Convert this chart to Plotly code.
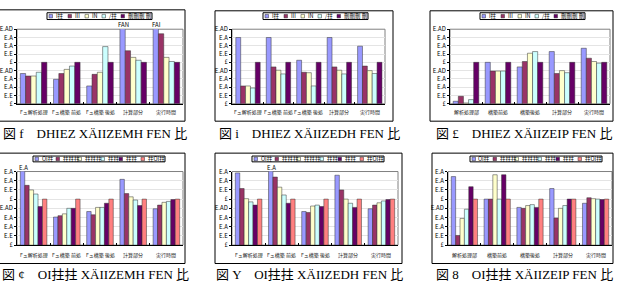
import plotly.graph_objects as go

W, H = 627, 283

# ---------------- data ----------------
cats_a = ["Fュ解析処理", "Fュ構築 前処", "Fュ構築 後処", "計算部分", "実行時間"]
cats_b = ["解析処理部", "構築前処", "構築後処", "計算部分", "実行時間"]

names_row1 = ["I拄", "III", "IN", "/拄", "刪刪刪 刪"]
names_row2 = ["OI拄", "拄拄拄", "拄拄拄", "拄拄", "拄拄", "拄OI拄"]

colors_row1 = ["#9999FF", "#993366", "#FFFFCC", "#CCFFFF", "#660066"]
colors_row2 = ["#9999FF", "#993366", "#FFFFCC", "#CCFFFF", "#660066", "#FF8080"]

p1 = [[0.73, 0.59, 0.43, 2.10, 2.00],
      [0.67, 0.73, 0.71, 1.28, 1.69],
      [0.67, 0.83, 0.76, 1.12, 1.12],
      [0.76, 0.91, 1.38, 1.05, 1.02],
      [1.00, 1.00, 1.00, 1.00, 1.00]]
p2 = [[1.60, 1.60, 1.05, 1.60, 1.39],
      [0.43, 0.89, 0.76, 0.89, 0.91],
      [0.43, 0.81, 0.75, 0.81, 0.80],
      [0.38, 0.72, 0.43, 0.72, 0.73],
      [1.00, 1.00, 1.00, 1.00, 1.00]]
p3 = [[0.06, 1.00, 0.89, 1.26, 1.34],
      [0.18, 0.79, 1.02, 0.73, 1.10],
      [0.02, 0.79, 1.22, 0.80, 1.02],
      [0.10, 0.79, 1.26, 0.75, 0.98],
      [1.00, 1.00, 1.00, 1.00, 1.00]]
p4 = [[1.75, 0.61, 0.73, 1.43, 0.79],
      [1.30, 0.64, 0.66, 1.12, 0.87],
      [1.20, 0.68, 0.82, 1.05, 0.93],
      [1.11, 0.80, 0.82, 0.98, 0.95],
      [0.84, 0.80, 0.91, 0.86, 0.99],
      [1.00, 1.00, 1.00, 1.00, 1.00]]
p5 = [[1.57, 1.75, 0.73, 1.52, 0.79],
      [1.23, 1.48, 0.71, 1.20, 0.87],
      [1.01, 1.26, 0.85, 1.00, 0.92],
      [0.94, 1.09, 0.87, 0.91, 0.96],
      [0.87, 0.91, 0.84, 0.82, 0.99],
      [1.00, 1.00, 1.00, 1.00, 1.00]]
p6 = [[1.49, 1.00, 0.82, 1.23, 0.91],
      [0.21, 1.00, 0.80, 0.59, 1.03],
      [0.58, 1.53, 0.86, 0.80, 1.01],
      [0.78, 1.00, 0.88, 0.86, 1.00],
      [1.27, 1.53, 0.82, 1.00, 0.99],
      [1.00, 1.00, 1.00, 1.00, 1.00]]

ticks_18 = [0, 0.2, 0.4, 0.6, 0.8, 1.0, 1.2, 1.4, 1.6, 1.8]
ticktext_18 = ["£", "E.E", "E.A", "E.A", "E.AD", "£", "E.E", "E.A", "E.A", "E.AD"]
ticks_16 = [0, 0.2, 0.4, 0.6, 0.8, 1.0, 1.2, 1.4, 1.6]
ticktext_16 = ["£", "E.E", "E.A", "E.A", "E.AD", "£", "E.E", "E.A", "E.A"]

captions = ["図 f　DHIEZ XÄIIZEMH FEN 比", "図 i　DHIEZ XÄIIZEDH FEN 比",
            "図 £　DHIEZ XÄIIZEIP FEN 比", "図 ¢　OI拄拄 XÄIIZEMH FEN 比",
            "図 Y　OI拄拄 XÄIIZEDH FEN 比", "図 8　OI拄拄 XÄIIZEIP FEN 比"]

# overflow value labels (panel, category index, text)
over_labels = [(1, 3, "FAN"), (1, 4, "FAI"), (4, 0, "E.A"), (5, 1, "E.A")]

# ---------------- layout geometry (pixels) ----------------
panels = [
    dict(data=p1, cats=cats_a, names=names_row1, colors=colors_row1, plot=(17, 183, 25, 102),
         frame=(-2, 185, 5, 120), ymax=1.8, legend=(47, 152, 8, 15), loff=[1, 20, 37, 54, 73], caption_x=95, caption_y=133, cat_y=110),
    dict(data=p2, cats=cats_a, names=names_row1, colors=colors_row1, plot=(232, 385, 25, 102),
         frame=(215, 393, 6, 120), ymax=1.8, legend=(263, 368, 8, 15), loff=[1, 20, 37, 54, 73], caption_x=309, caption_y=133, cat_y=110),
    dict(data=p3, cats=cats_b, names=names_row1, colors=colors_row1, plot=(450, 610, 25, 102),
         frame=(430, 613, 6, 120), ymax=1.8, legend=(480, 585, 8, 15), loff=[1, 20, 37, 54, 73], caption_x=524, caption_y=133, cat_y=110),
    dict(data=p4, cats=cats_a, names=names_row2, colors=colors_row2, plot=(17, 183, 172, 248),
         frame=(-2, 185, 153, 267), ymax=1.6, legend=(33, 165, 156, 162), loff=[1, 22, 44, 67, 85, 107], caption_x=95, caption_y=278, cat_y=258),
    dict(data=p5, cats=cats_a, names=names_row2, colors=colors_row2, plot=(232, 398, 172, 248),
         frame=(215, 402, 153, 267), ymax=1.6, legend=(252, 384, 156, 162), loff=[1, 22, 44, 67, 85, 107], caption_x=309, caption_y=278, cat_y=258),
    dict(data=p6, cats=cats_b, names=names_row2, colors=colors_row2, plot=(448, 612, 172, 248),
         frame=(432, 613, 153, 267), ymax=1.6, legend=(470, 602, 156, 162), loff=[1, 22, 44, 67, 85, 107], caption_x=524, caption_y=278, cat_y=258),
]

def px(x):
    return x / W

def py(y):
    return 1 - y / H

FONT = "Noto Sans CJK JP"
CAP_FONT = "Liberation Serif, Noto Sans CJK JP"
fig = go.Figure()
shapes = []
annotations = []
layout = dict(width=W, height=H, margin=dict(l=0, r=0, t=0, b=0),
              paper_bgcolor="white", plot_bgcolor="white", showlegend=False,
              barmode="group", bargap=0.2, bargroupgap=0.0,
              font=dict(family=FONT, size=6, color="black"))

for k, p in enumerate(panels, start=1):
    xa = "x" if k == 1 else f"x{k}"
    ya = "y" if k == 1 else f"y{k}"
    xl = "xaxis" if k == 1 else f"xaxis{k}"
    yl = "yaxis" if k == 1 else f"yaxis{k}"
    for s, vals in enumerate(p["data"]):
        fig.add_trace(go.Bar(x=p["cats"], y=vals, name=p["names"][s], xaxis=xa, yaxis=ya,
                             marker=dict(color=p["colors"][s], line=dict(color="#333333", width=0.5))))
    x0, x1, y0, y1 = p["plot"]
    tv = ticks_18 if p["ymax"] > 1.7 else ticks_16
    tt = ticktext_18 if p["ymax"] > 1.7 else ticktext_16
    layout[xl] = dict(domain=[px(x0), px(x1)], anchor=ya, showline=True, linecolor="black", linewidth=1,
                      ticks="inside", ticklen=2, tickson="boundaries", tickcolor="black",
                      showticklabels=False, fixedrange=True)
    layout[yl] = dict(domain=[py(y1), py(y0)], anchor=xa, range=[0, p["ymax"]], showline=True,
                      linecolor="black", linewidth=1, ticks="outside", ticklen=2, tickcolor="black",
                      tickvals=tv, ticktext=tt, tickfont=dict(size=6, family=FONT),
                      showgrid=True, gridcolor="#e4e4e4", gridwidth=0.5, zeroline=False, fixedrange=True)
    # plot area border (gray)
    shapes.append(dict(type="rect", xref="paper", yref="paper", x0=px(x0), x1=px(x1), y0=py(y1), y1=py(y0),
                       line=dict(color="#808080", width=1), layer="below"))
    # outer chart frame
    fx0, fx1, fy0, fy1 = p["frame"]
    shapes.append(dict(type="rect", xref="paper", yref="paper", x0=px(fx0), x1=px(fx1), y0=py(fy1), y1=py(fy0),
                       line=dict(color="black", width=1)))
    # category labels
    for c in p["cats"]:
        annotations.append(dict(x=c, xref=xa, y=py(p["cat_y"]), yref="paper", text=c, showarrow=False,
                                font=dict(size=5, family=FONT, color="#222222"), xanchor="center", yanchor="middle"))
    # legend
    lx0, lx1, ly0, ly1 = p["legend"]
    shapes.append(dict(type="rect", xref="paper", yref="paper", x0=px(lx0), x1=px(lx1), y0=py(ly1), y1=py(ly0),
                       line=dict(color="black", width=1), fillcolor="white"))
    ymid = (ly0 + ly1) / 2
    for s, nm in enumerate(p["names"]):
        sx = lx0 + p["loff"][s] + 1
        shapes.append(dict(type="rect", xref="paper", yref="paper", x0=px(sx), x1=px(sx + 3.5),
                           y0=py(ymid + 1.8), y1=py(ymid - 1.8), fillcolor=p["colors"][s],
                           line=dict(color="#333333", width=0.5)))
        annotations.append(dict(x=px(sx + 4.5), xref="paper", y=py(ymid), yref="paper", text=nm, showarrow=False,
                                font=dict(size=5.5, family=FONT, color="black"), xanchor="left", yanchor="middle"))
    # caption
    annotations.append(dict(x=px(p["caption_x"]), xref="paper", y=py(p["caption_y"]), yref="paper",
                            text=captions[k - 1], showarrow=False,
                            font=dict(size=13, family=CAP_FONT, color="black"), xanchor="center", yanchor="middle"))

# overflow labels
for (k, ci, txt) in over_labels:
    p = panels[k - 1]
    xa = "x" if k == 1 else f"x{k}"
    ya = "y" if k == 1 else f"y{k}"
    annotations.append(dict(x=p["cats"][ci], xref=xa, y=p["ymax"], yref=ya, text=txt, showarrow=False,
                            font=dict(size=6, family=FONT, color="black"), xanchor="center", yanchor="bottom",
                            xshift=-10, yshift=-2))

layout["shapes"] = shapes
layout["annotations"] = annotations
fig.update_layout(**layout)
fig.write_html("out.html")
